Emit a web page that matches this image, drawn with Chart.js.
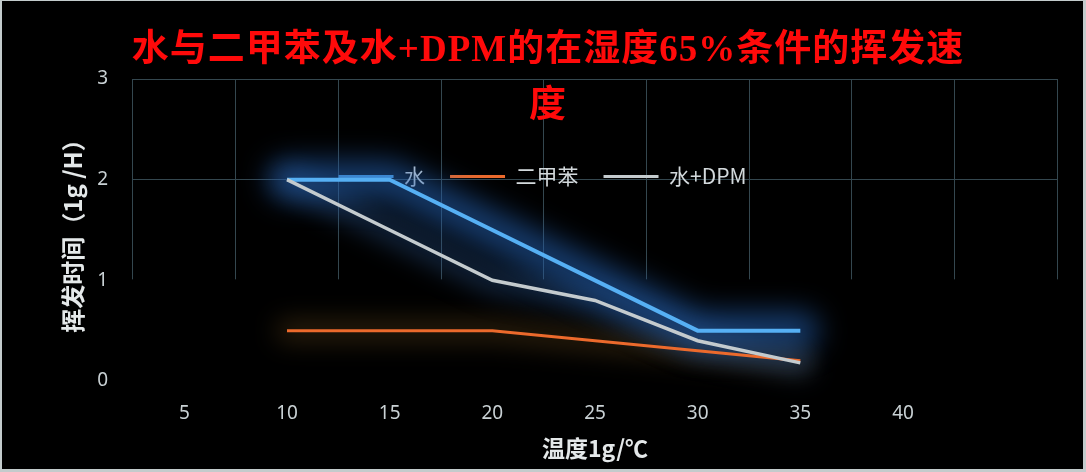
<!DOCTYPE html>
<html>
<head>
<meta charset="utf-8">
<script src="https://cdn.jsdelivr.net/npm/chart.js@4.4.1/dist/chart.umd.min.js"></script>
<style>
  html, body { margin: 0; padding: 0; background: #000; }
  #frame { position: absolute; left: 0; top: 0; width: 1086px; height: 472px; box-sizing: border-box;
           border-style: solid; border-color: #c3cbcc; border-width: 1px 3px 3px 2px; background: #000; overflow: hidden; }
  #wrap { position: absolute; left: 0; top: 0; width: 1081px; height: 468px; }
  #title { position: absolute; left: 8px; width: 1076px; top: 20px; text-align: center; color: #ff0a0a;
           font-weight: bold; font-size: 37px; line-height: 56px; letter-spacing: 1px;
           font-family: "Liberation Serif", "Noto Sans CJK SC", serif; pointer-events: none; z-index: 2; }
</style>
</head>
<body>
<div id="frame">
  <div id="wrap"><canvas id="chart"></canvas></div>
  <div id="title">水与二甲苯及水+DPM的在湿度65%条件的挥发速<br>度</div>
</div>
<script>
// ---- data ----
const categories = ['5', '10', '15', '20', '25', '30', '35', '40', ''];
const seriesNames = ['水', '二甲苯', '水+DPM'];
const waterValues = [null, 2, 2, 1.5, 1.0, 0.5, 0.5, null, null];
const xyleneValues = [null, 0.5, 0.5, 0.5, 0.4, 0.3, 0.2, null, null];
const waterDpmValues = [null, 2, 1.5, 1.0, 0.8, 0.4, 0.18, null, null];
const yTickValues = [0, 1, 2, 3];
const xAxisTitle = '温度1g/℃';
const yAxisTitle = '挥发时间（1g /H）';

// ---- plugins ----
// hide the grid below value 1 (as in the reference picture)
const lowerShade = {
  id: 'lowerShade',
  beforeDatasetsDraw(chart) {
    const { ctx, chartArea: a, scales: { y } } = chart;
    const y1 = y.getPixelForValue(1);
    ctx.save();
    ctx.fillStyle = '#000';
    ctx.fillRect(a.left - 2, y1 - 1, a.right - a.left + 4, a.bottom - y1 + 4);
    ctx.restore();
  }
};

// soft glow under each line, following the library's computed points
const glowPlugin = {
  id: 'glow',
  beforeDatasetsDraw(chart) {
    const ctx = chart.ctx;
    const order = [1, 2, 0];
    order.forEach(i => {
      const ds = chart.data.datasets[i];
      const meta = chart.getDatasetMeta(i);
      if (!ds.glowColor || meta.hidden) return;
      const pts = meta.data.filter((p, k) => ds.data[k] !== null && ds.data[k] !== undefined);
      if (!pts.length) return;
      ctx.save();
      ctx.filter = 'blur(' + ds.glowBlur + 'px)';
      ctx.strokeStyle = ds.glowColor;
      ctx.lineWidth = ds.glowWidth;
      ctx.lineJoin = 'round';
      ctx.lineCap = 'round';
      ctx.beginPath();
      pts.forEach((p, k) => { if (k === 0) ctx.moveTo(p.x, p.y); else ctx.lineTo(p.x, p.y); });
      ctx.stroke();
      ctx.restore();
    });
  }
};

const legendPlace = {
  id: 'legendPlace',
  beforeLayout(chart) {
    const lg = chart.legend;
    if (lg && !lg._wrappedFit) {
      const fit = lg.fit;
      lg.fit = function () { fit.call(this); this._fullHeight = this.height; this.height = 0; };
      lg._wrappedFit = true;
    }
  },
  beforeDraw(chart) {
    const lg = chart.legend;
    if (!lg) return;
    const top = 140;
    lg.left = 0; lg.right = chart.width;
    lg.top = top; lg.bottom = top + (lg._fullHeight || 80);
  }
};

const tickFont = { family: '"Noto Sans", "Noto Sans CJK SC", sans-serif', size: 19 };

new Chart(document.getElementById('chart'), {
  type: 'line',
  data: {
    labels: categories,
    datasets: [
      { label: seriesNames[0], data: waterValues, borderColor: '#56b0f4', backgroundColor: '#56b0f4',
        borderWidth: 4, order: 1, glowColor: 'rgba(35,95,175,0.62)', glowBlur: 14, glowWidth: 38 },
      { label: seriesNames[1], data: xyleneValues, borderColor: '#ec6a2c', backgroundColor: '#ec6a2c',
        borderWidth: 3, order: 2, glowColor: 'rgba(120,85,35,0.35)', glowBlur: 12, glowWidth: 22 },
      { label: seriesNames[2], data: waterDpmValues, borderColor: '#c4cbce', backgroundColor: '#c4cbce',
        borderWidth: 3.5, order: 0, glowColor: 'rgba(45,90,150,0.4)', glowBlur: 12, glowWidth: 26 }
    ]
  },
  options: {
    responsive: true,
    maintainAspectRatio: false,
    animation: false,
    events: [],
    layout: { padding: { left: 53, right: 26, top: 78, bottom: 3 } },
    elements: { line: { tension: 0, fill: false }, point: { radius: 0, hoverRadius: 0 } },
    scales: {
      x: {
        offset: true,
        grid: { display: true, offset: true, color: '#34474f', lineWidth: 1, drawTicks: false },
        border: { display: false },
        ticks: { color: '#c9d1d4', font: tickFont, padding: 21, maxRotation: 0, autoSkip: false },
        title: { display: true, text: xAxisTitle, color: '#e4e8e9',
                 font: { family: '"Noto Sans CJK SC", sans-serif', size: 23, weight: 'bold' }, padding: { top: 4, bottom: 4 } },
        afterFit(scale) { scale.height = 85; }
      },
      y: {
        min: 0, max: 3,
        grid: { color: '#34474f', lineWidth: 1, drawTicks: false },
        border: { display: false },
        afterBuildTicks(scale) { scale.ticks = yTickValues.map(v => ({ value: v })); },
        ticks: { color: '#c9d1d4', font: tickFont, padding: 25, stepSize: 1 },
        title: { display: true, text: yAxisTitle, color: '#e4e8e9',
                 font: { family: '"Noto Sans CJK SC", sans-serif', size: 24, weight: 'bold' }, padding: { top: 3, bottom: 3 } },
        afterFit(scale) { scale.width = 78; }
      }
    },
    plugins: {
      title: { display: false },
      tooltip: { enabled: false },
      legend: {
        display: true,
        position: 'top',
        align: 'center',
        labels: {
          color: '#d3d9dc',
          font: { family: '"Noto Sans CJK SC", "Noto Sans", sans-serif', size: 21 },
          boxWidth: 55,
          boxHeight: 3,
          padding: 25,
          generateLabels(chart) {
            const items = Chart.defaults.plugins.legend.labels.generateLabels(chart);
            items.forEach(it => { it.lineWidth = 0; it.strokeStyle = 'transparent'; });
            items.sort((a, b) => a.datasetIndex - b.datasetIndex);
            return items;
          }
        }
      }
    }
  },
  plugins: [lowerShade, glowPlugin, legendPlace]
});
</script>
</body>
</html>
